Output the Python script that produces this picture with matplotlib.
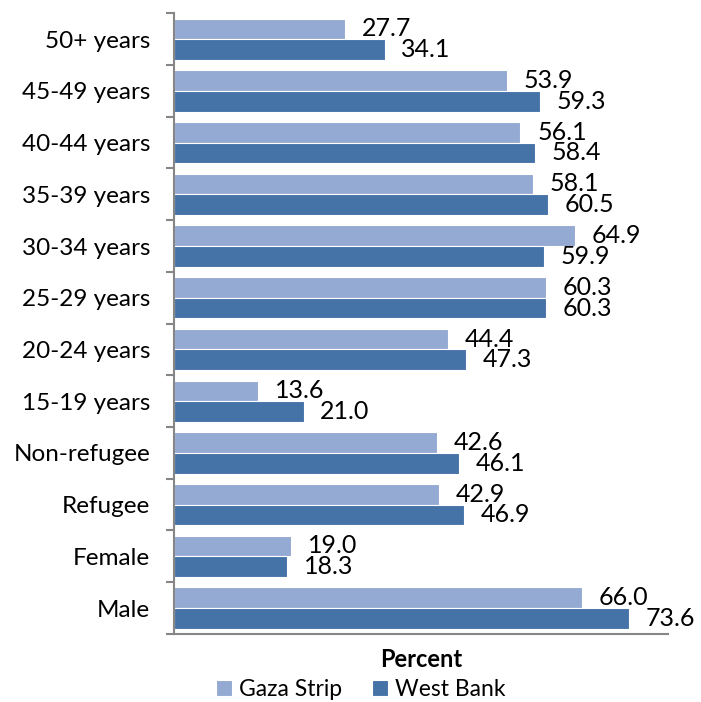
import numpy as np
import matplotlib.pyplot as plt

categories = ["50+ years", "45-49 years", "40-44 years", "35-39 years", "30-34 years",
              "25-29 years", "20-24 years", "15-19 years", "Non-refugee", "Refugee",
              "Female", "Male"]
gaza = [27.7, 53.9, 56.1, 58.1, 64.9, 60.3, 44.4, 13.6, 42.6, 42.9, 19.0, 66.0]
west_bank = [34.1, 59.3, 58.4, 60.5, 59.9, 60.3, 47.3, 21.0, 46.1, 46.9, 18.3, 73.6]

plt.rcParams['font.family'] = ['Lato', 'DejaVu Sans']

fig = plt.figure(figsize=(7.01, 7.02), dpi=100)
ax = fig.add_axes([0.248, 0.097, 0.705, 0.884])

y = np.arange(len(categories))
h = 0.4
ax.barh(y - h/2, gaza, height=h, color="#95AAD2", edgecolor="white", linewidth=0.8, label="Gaza Strip")
ax.barh(y + h/2, west_bank, height=h, color="#4573A7", edgecolor="white", linewidth=0.8, label="West Bank")

# etiquetas de valores
for yi, v in zip(y, gaza):
    ax.annotate(f"{v:.1f}", (v, yi - h/2), xytext=(12, 0), textcoords="offset points",
                va="center", ha="left", fontsize=18)
for yi, v in zip(y, west_bank):
    ax.annotate(f"{v:.1f}", (v, yi + h/2), xytext=(12, 0), textcoords="offset points",
                va="center", ha="left", fontsize=18)

ax.set_xlim(0, 80)
ax.set_ylim(len(categories) - 0.5, -0.5)
ax.set_yticks(y)
ax.set_yticklabels(categories, fontsize=17.5)
ax.set_yticks(np.arange(-0.5, len(categories) + 0.5, 1), minor=True)
ax.tick_params(axis="y", which="major", length=0, pad=17)
ax.tick_params(axis="y", which="minor", length=6, width=1.5, color="#868686")
ax.set_xticks([])
for s in ["top", "right"]:
    ax.spines[s].set_visible(False)
ax.spines["left"].set_color("#868686")
ax.spines["left"].set_linewidth(1.5)
ax.spines["bottom"].set_color("#868686")
ax.spines["bottom"].set_linewidth(1.5)

ax.set_xlabel("Percent", fontsize=17, fontweight="bold", labelpad=10)
fig.legend(loc="lower center", bbox_to_anchor=(0.515, -0.027), ncol=2, frameon=False,
           fontsize=16.5, handlelength=0.7, handleheight=0.7, handletextpad=0.3, columnspacing=1.3)

plt.savefig("out.png")
